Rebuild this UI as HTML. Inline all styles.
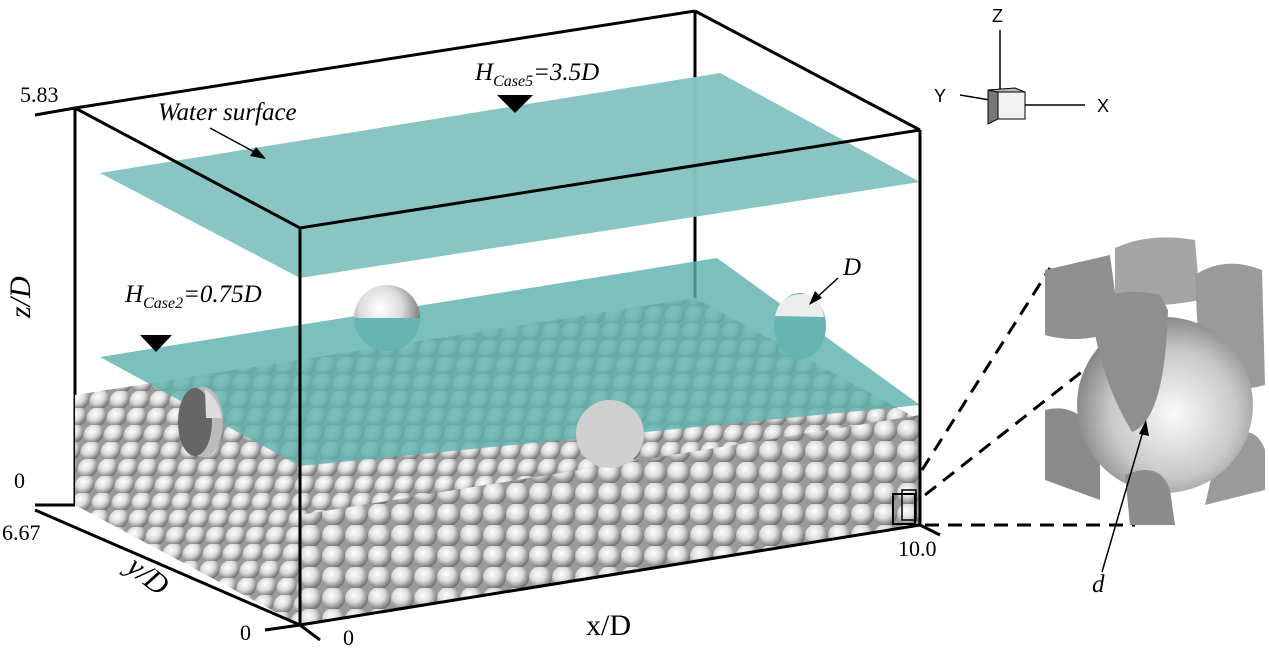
<!DOCTYPE html>
<html><head><meta charset="utf-8"><style>
html,body{margin:0;padding:0;background:#fff;}
svg{display:block;font-family:"Liberation Serif",serif;}
</style></head><body>
<svg width="1269" height="652" viewBox="0 0 1269 652" xmlns="http://www.w3.org/2000/svg">
<defs>
<radialGradient id="sg" cx="40%" cy="35%" r="65%">
<stop offset="0" stop-color="#ffffff"/><stop offset="0.5" stop-color="#dcdcdc"/><stop offset="1" stop-color="#707070"/></radialGradient>
<radialGradient id="big" cx="55%" cy="55%" r="60%">
<stop offset="0" stop-color="#fafafa"/><stop offset="0.6" stop-color="#c8c8c8"/><stop offset="1" stop-color="#7a7a7a"/></radialGradient>
<pattern id="bed" width="20" height="17" patternUnits="userSpaceOnUse" patternTransform="skewX(-10)">
<rect width="20" height="17" fill="#9a9a9a"/>
<circle cx="10" cy="9" r="10" fill="url(#sg)"/>
</pattern>
<pattern id="bed2" width="23" height="21" patternUnits="userSpaceOnUse">
<rect width="23" height="21" fill="#9a9a9a"/>
<circle cx="11.5" cy="10.5" r="11.5" fill="url(#sg)"/>
</pattern>
<clipPath id="bc"><polygon points="75,395 695,298 920,420 920,525 300,625 75,505"/></clipPath>
<clipPath id="fc"><polygon points="300,515 920,415 920,525 300,625"/></clipPath>
</defs>

<line x1="75" y1="108" x2="75" y2="505" stroke="#000" stroke-width="3"/>
<line x1="35" y1="115" x2="75" y2="108" stroke="#000" stroke-width="3"/>
<line x1="75" y1="108" x2="695" y2="11" stroke="#000" stroke-width="3"/>
<line x1="695" y1="11" x2="920" y2="130" stroke="#000" stroke-width="3"/>
<line x1="695" y1="11" x2="695" y2="300" stroke="#000" stroke-width="3"/>

<polygon points="100,173 720,73 920,182 300,278" fill="#84c3c1" opacity="0.97"/>

<g clip-path="url(#bc)">
<rect x="70" y="290" width="860" height="340" fill="url(#bed)"/>
</g>
<g clip-path="url(#fc)">
<rect x="290" y="400" width="640" height="230" fill="url(#bed2)"/>
</g>
<polygon points="100,357 717,258 920,405 300,466" fill="#5fb2af" opacity="0.82"/>

<circle cx="387" cy="318" r="33" fill="url(#sg)"/>
<path d="M354,318 A33,33 0 0 0 420,318 Z" fill="#66b5b2"/>
<ellipse cx="800" cy="326" rx="26" ry="33" fill="#66b5b2"/>
<path d="M775,316 Q780,292 808,294 Q822,300 824,317 Z" fill="#ececec"/>
<ellipse cx="203" cy="422" rx="20" ry="35" fill="#bbb"/>
<ellipse cx="195" cy="422" rx="17" ry="34" fill="#666"/>
<path d="M205,389 Q218,398 222,418 L206,418 Z" fill="#ddd"/>
<circle cx="610" cy="434" r="34" fill="#cfcfcf"/>

<polyline points="75,108 300,228 920,130" fill="none" stroke="#000" stroke-width="3"/>
<line x1="300" y1="228" x2="300" y2="625" stroke="#000" stroke-width="3"/>
<line x1="920" y1="130" x2="920" y2="525" stroke="#000" stroke-width="3"/>
<line x1="35" y1="510" x2="300" y2="625" stroke="#000" stroke-width="3"/>
<line x1="300" y1="625" x2="920" y2="525" stroke="#000" stroke-width="3"/>
<line x1="920" y1="525" x2="940" y2="535" stroke="#000" stroke-width="3"/>
<line x1="265" y1="630" x2="300" y2="625" stroke="#000" stroke-width="3"/>
<line x1="300" y1="625" x2="320" y2="640" stroke="#000" stroke-width="3"/>
<line x1="35" y1="505" x2="75" y2="505" stroke="#000" stroke-width="3"/>
<rect x="893" y="494" width="22" height="30" fill="none" stroke="#000" stroke-width="2"/>
<rect x="902" y="490" width="14" height="30" fill="none" stroke="#000" stroke-width="1.5"/>

<polygon points="497,95 533,95 515,113" fill="#000"/>
<polygon points="140,335 172,335 156,352" fill="#000"/>

<text x="20" y="102" font-size="22">5.83</text>
<text x="14" y="488" font-size="22">0</text>
<text x="2" y="540" font-size="22">6.67</text>
<text x="240" y="640" font-size="22">0</text>
<text x="343" y="645" font-size="22">0</text>
<text x="898" y="556" font-size="22">10.0</text>
<text x="586" y="635" font-size="30">x/D</text>
<text transform="translate(125,570) rotate(38)" font-size="30" font-style="italic">y/D</text>
<text transform="translate(30,318) rotate(-90)" font-size="30" font-style="italic">z/D</text>
<text x="158" y="120" font-size="25" font-style="italic">Water surface</text>
<line x1="210" y1="128" x2="260" y2="155" stroke="#000" stroke-width="1.5"/>
<polygon points="266,159 250,156 256,147" fill="#000"/>
<text x="475" y="80" font-size="25" font-style="italic">H<tspan font-size="16" dy="6">Case5</tspan><tspan dy="-6">=3.5D</tspan></text>
<text x="125" y="302" font-size="25" font-style="italic">H<tspan font-size="16" dy="6">Case2</tspan><tspan dy="-6">=0.75D</tspan></text>
<text x="843" y="275" font-size="25" font-style="italic">D</text>
<line x1="838" y1="278" x2="814" y2="300" stroke="#000" stroke-width="1.5"/>
<polygon points="809,305 815,291 822,298" fill="#000"/>

<text x="992" y="22" font-family="Liberation Sans" font-size="18">Z</text>
<text x="934" y="102" font-family="Liberation Sans" font-size="18">Y</text>
<text x="1097" y="112" font-family="Liberation Sans" font-size="18">X</text>
<line x1="1000" y1="30" x2="1000" y2="90" stroke="#000" stroke-width="1.5"/>
<line x1="1025" y1="105" x2="1085" y2="105" stroke="#000" stroke-width="1.5"/>
<line x1="960" y1="95" x2="990" y2="100" stroke="#000" stroke-width="1.5"/>
<rect x="998" y="92" width="27" height="27" fill="#f2f2f2" stroke="#000"/>
<polygon points="988,90 998,92 998,119 988,124" fill="#777" stroke="#000"/>
<polygon points="988,90 1015,88 1025,92 998,92" fill="#bbb" stroke="#000"/>

<g stroke="#000" stroke-width="3" stroke-dasharray="14,9" fill="none">
<line x1="922" y1="470" x2="1050" y2="268"/>
<line x1="925" y1="495" x2="1135" y2="330"/>
<line x1="925" y1="525" x2="1135" y2="525"/>
</g>

<g stroke="none">
<path d="M1045,270 L1110,255 L1120,330 Q1080,345 1045,335 Z" fill="#8f8f8f"/>
<path d="M1115,248 Q1150,232 1195,240 L1200,300 Q1150,310 1115,300 Z" fill="#a5a5a5"/>
<path d="M1195,275 Q1225,255 1262,270 L1265,385 Q1230,395 1200,380 Z" fill="#9a9a9a"/>
<path d="M1045,410 Q1085,400 1100,450 L1100,500 L1045,480 Z" fill="#8a8a8a"/>
<path d="M1220,440 Q1255,420 1265,450 L1265,490 L1205,505 Z" fill="#9a9a9a"/>
<circle cx="1165" cy="405" r="88" fill="url(#big)"/>
<path d="M1090,305 Q1120,285 1160,295 L1168,310 Q1165,420 1132,432 Q1100,380 1090,305 Z" fill="#8f8f8f"/>
<path d="M1125,475 Q1160,460 1170,490 L1175,525 L1130,525 Z" fill="#8c8c8c"/>
</g>
<line x1="1102" y1="572" x2="1144" y2="428" stroke="#000" stroke-width="1.5"/>
<polygon points="1146,420 1149,436 1139,434" fill="#000"/>
<text x="1092" y="592" font-size="25" font-style="italic">d</text>
</svg>
</body></html>
